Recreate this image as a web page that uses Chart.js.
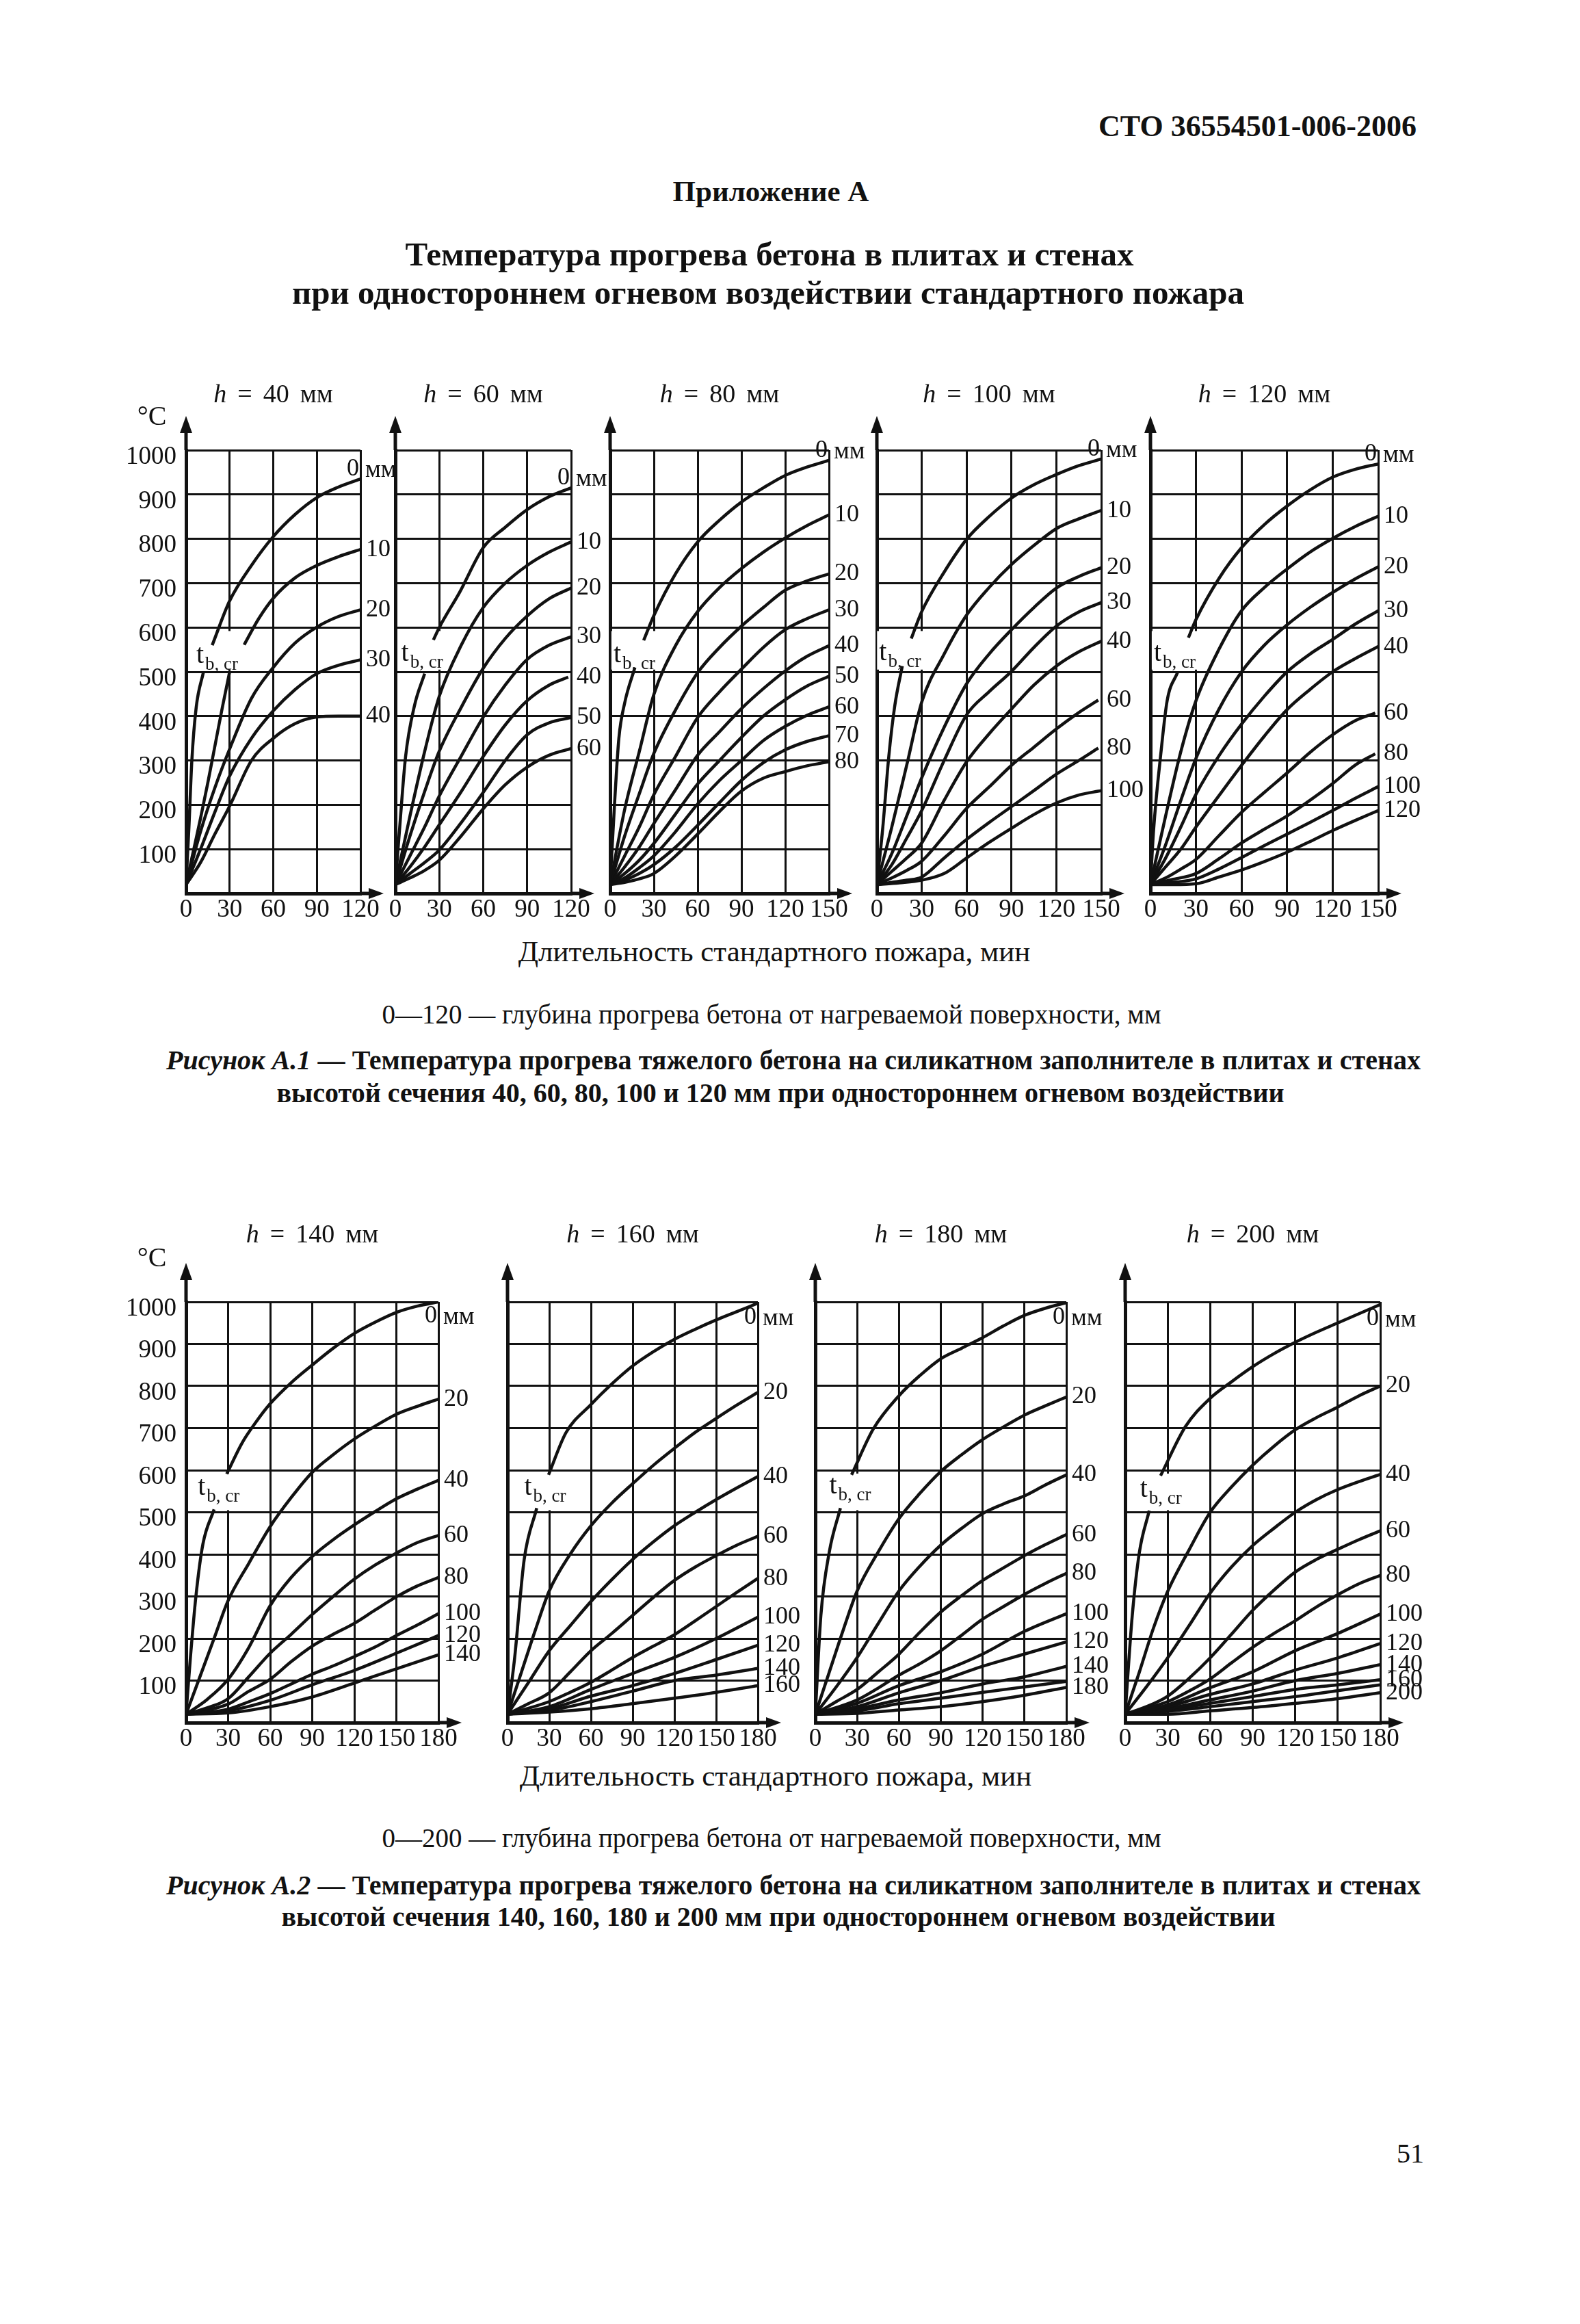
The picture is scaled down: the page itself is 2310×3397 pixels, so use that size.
<!DOCTYPE html>
<html>
<head>
<meta charset="utf-8">
<script src="https://cdn.jsdelivr.net/npm/chart.js@4.4.1/dist/chart.umd.min.js"></script>
<style>
  body { margin: 0; background: #fff; width: 2310px; height: 3397px; position: relative;
         font-family: 'Liberation Serif', 'Times New Roman', serif; color: #111; overflow: hidden; }
  .t { position: absolute; white-space: nowrap; transform: translate(-50%, -50%); line-height: 1; }
  .b { font-weight: bold; }
  .just { position: absolute; transform: translateY(-50%); text-align: justify; text-align-last: justify;
          line-height: 1; font-weight: bold; white-space: nowrap; }
  canvas { position: absolute; }
</style>
</head>
<body>

<div class="b" style="position:absolute; right:239px; top:163px; font-size:44px; line-height:1;">СТО 36554501-006-2006</div>
<div class="t b" style="left:1127px; top:279px; font-size:43px;">Приложение А</div>
<div class="t b" style="left:1125px; top:371px; font-size:49px;">Температура прогрева бетона в плитах и стенах</div>
<div class="t b" style="left:1123px; top:427px; font-size:49px;">при одностороннем огневом воздействии стандартного пожара</div>

<div class="t" style="left:1132px; top:1390px; font-size:43px;">Длительность стандартного пожара, мин</div>
<div class="t" style="left:1128px; top:1482px; font-size:39px;">0—120 — глубина прогрева бетона от нагреваемой поверхности, мм</div>
<div class="just" style="left:243px; width:1834px; top:1550px; font-size:40px;"><i>Рисунок А.1</i> — Температура прогрева тяжелого бетона на силикатном заполнителе в плитах и стенах</div>
<div class="t b" style="left:1141px; top:1598px; font-size:40px;">высотой сечения 40, 60, 80, 100 и 120 мм при одностороннем огневом воздействии</div>

<div class="t" style="left:1134px; top:2595px; font-size:43px;">Длительность стандартного пожара, мин</div>
<div class="t" style="left:1128px; top:2686px; font-size:39px;">0—200 — глубина прогрева бетона от нагреваемой поверхности, мм</div>
<div class="just" style="left:243px; width:1834px; top:2756px; font-size:40px;"><i>Рисунок А.2</i> — Температура прогрева тяжелого бетона на силикатном заполнителе в плитах и стенах</div>
<div class="t b" style="left:1138px; top:2802px; font-size:40px;">высотой сечения 140, 160, 180 и 200 мм при одностороннем огневом воздействии</div>

<div class="t" style="left:2062px; top:3148px; font-size:40px;">51</div>

<script>
// ---- data: [minutes, °C] points per depth; null temperature = break at the t_b,cr label ----

const depthsH40 = ['0', '10', '20', '30', '40'];
const curvesH40 = [
  [[0,20],[2,150],[4,300],[7,420],[12,500],[15,null],[18,560],[30,660],[45,740],[60,805],[75,855],[90,893],[105,917],[120,935]],
  [[0,20],[5,95],[10,170],[15,250],[20,335],[25,420],[30,500],[35,null],[40,561],[50,620],[60,666],[75,712],[90,740],[105,760],[120,776]],
  [[0,20],[10,140],[20,240],[30,326],[45,440],[60,510],[75,565],[90,601],[105,625],[120,640]],
  [[0,20],[10,100],[20,185],[30,265],[45,350],[60,412],[75,460],[90,496],[105,515],[120,527]],
  [[0,20],[10,70],[20,135],[30,197],[45,300],[60,350],[75,383],[90,398],[105,400],[120,400]]
];

const depthsH60 = ['0', '10', '20', '30', '40', '50', '60'];
const curvesH60 = [
  [[0,20],[3,150],[7,309],[13,423],[20,496],[23,null],[26,572],[30,600],[44,680],[60,780],[75,826],[90,866],[105,895],[120,915]],
  [[0,20],[10,175],[20,320],[30,445],[45,560],[60,645],[75,700],[90,740],[105,770],[120,793]],
  [[0,20],[10,130],[20,230],[30,321],[45,420],[60,508],[75,575],[90,626],[105,665],[120,689]],
  [[0,20],[10,85],[20,150],[30,220],[45,310],[60,398],[75,470],[90,528],[105,560],[120,579]],
  [[0,20],[10,60],[20,105],[30,155],[45,230],[60,309],[75,380],[90,435],[105,470],[118,488]],
  [[0,20],[10,45],[20,70],[30,98],[45,160],[60,228],[75,300],[90,358],[105,385],[120,397]],
  [[0,20],[10,35],[20,52],[30,75],[45,130],[60,191],[75,245],[90,285],[105,312],[120,327]]
];

const depthsH80 = ['0', '10', '20', '30', '40', '50', '60', '70', '80'];
const curvesH80 = [
  [[0,20],[3,200],[6,350],[10,430],[17,510],[20,null],[23,571],[30,627],[45,722],[60,793],[75,842],[90,883],[105,915],[120,943],[135,962],[150,977]],
  [[0,20],[10,190],[20,320],[30,449],[45,560],[60,636],[75,690],[90,733],[105,770],[120,802],[135,830],[150,854]],
  [[0,20],[10,130],[20,225],[30,316],[45,415],[60,498],[75,555],[90,603],[105,645],[120,684],[135,705],[150,721]],
  [[0,20],[10,85],[20,150],[30,223],[45,310],[60,397],[75,455],[90,506],[105,555],[120,595],[135,620],[150,640]],
  [[0,20],[10,60],[20,105],[30,158],[45,235],[60,312],[75,365],[90,417],[105,462],[120,502],[135,535],[150,559]],
  [[0,20],[10,45],[20,75],[30,113],[45,180],[60,247],[75,300],[90,352],[105,400],[120,437],[135,468],[150,490]],
  [[0,20],[10,35],[20,58],[30,85],[45,140],[60,202],[75,255],[90,300],[105,345],[120,377],[135,402],[150,421]],
  [[0,20],[10,30],[20,45],[30,65],[45,105],[60,154],[75,205],[90,255],[105,295],[120,324],[135,343],[150,356]],
  [[0,20],[10,25],[20,33],[30,45],[45,85],[60,134],[75,185],[90,231],[105,260],[120,275],[135,288],[150,297]]
];

const depthsH100 = ['0', '10', '20', '30', '40', '60', '80', '100'];
const curvesH100 = [
  [[0,20],[4,150],[8,310],[12,424],[17,513],[20,null],[23,575],[30,636],[45,725],[60,799],[75,850],[90,892],[105,922],[120,945],[135,965],[150,980]],
  [[0,20],[10,150],[20,290],[30,432],[45,540],[60,628],[75,690],[90,742],[105,785],[120,823],[135,845],[150,864]],
  [[0,20],[10,90],[20,175],[30,261],[45,375],[60,473],[75,540],[90,595],[105,645],[120,689],[135,715],[150,735]],
  [[0,20],[10,65],[20,125],[30,187],[45,300],[60,403],[75,455],[90,501],[105,555],[120,603],[135,635],[150,656]],
  [[0,20],[10,50],[20,80],[30,114],[45,210],[60,297],[75,360],[90,416],[105,470],[120,513],[135,545],[150,569]],
  [[0,20],[10,35],[20,52],[30,73],[45,130],[60,192],[75,240],[90,289],[105,330],[120,371],[135,408],[148,436]],
  [[0,20],[10,25],[20,30],[30,37],[45,80],[60,122],[75,160],[90,196],[105,232],[120,269],[135,300],[148,328]],
  [[0,20],[15,24],[30,30],[45,45],[60,80],[75,115],[90,147],[105,178],[120,204],[135,222],[150,232]]
];

const depthsH120 = ['0', '10', '20', '30', '40', '60', '80', '100', '120'];
const curvesH120 = [
  [[0,20],[2,140],[7,321],[11,435],[18,500],[21,null],[25,577],[30,618],[45,710],[60,780],[75,832],[90,874],[105,910],[120,939],[135,957],[150,969]],
  [[0,20],[10,175],[20,320],[30,435],[45,550],[60,638],[75,690],[90,732],[105,770],[120,801],[135,828],[150,851]],
  [[0,20],[10,110],[20,210],[30,305],[45,415],[60,500],[75,560],[90,606],[105,645],[120,679],[135,710],[150,737]],
  [[0,20],[10,80],[20,150],[30,224],[45,310],[60,382],[75,445],[90,500],[105,540],[120,573],[135,608],[150,638]],
  [[0,20],[10,60],[20,100],[30,150],[45,220],[60,289],[75,355],[90,415],[105,460],[120,500],[135,530],[150,557]],
  [[0,20],[10,35],[20,55],[30,77],[45,130],[60,183],[75,228],[90,272],[105,318],[120,358],[135,390],[148,407]],
  [[0,20],[15,32],[30,45],[45,78],[60,114],[75,145],[90,175],[105,210],[120,248],[135,290],[148,315]],
  [[0,20],[15,25],[30,33],[45,55],[60,81],[75,108],[90,134],[105,160],[120,187],[135,215],[150,241]],
  [[0,20],[15,20],[30,22],[45,37],[60,53],[75,72],[90,93],[105,117],[120,142],[135,165],[150,187]]
];

const depthsH140 = ['0', '20', '40', '60', '80', '100', '120', '140'];
const curvesH140 = [
  [[0,20],[3,150],[7,299],[12,424],[20,507],[25,null],[29,591],[40,665],[50,715],[60,758],[75,808],[90,850],[105,890],[120,925],[135,952],[150,975],[165,990],[180,1000]],
  [[0,20],[10,110],[20,200],[30,290],[45,380],[60,466],[75,535],[90,595],[105,637],[120,674],[135,705],[150,733],[165,752],[180,769]],
  [[0,20],[15,55],[30,103],[45,180],[60,278],[75,345],[90,395],[105,435],[120,470],[135,502],[150,532],[165,555],[180,576]],
  [[0,20],[15,35],[30,57],[45,110],[60,165],[75,210],[90,257],[105,300],[120,341],[135,375],[150,403],[165,428],[180,445]],
  [[0,20],[30,44],[45,75],[60,103],[75,145],[90,182],[105,210],[120,236],[135,268],[150,299],[165,325],[180,345]],
  [[0,20],[30,32],[45,50],[60,69],[75,92],[90,115],[105,135],[120,157],[135,180],[150,207],[165,232],[180,259]],
  [[0,20],[30,28],[60,53],[90,90],[120,124],[150,165],[180,207]],
  [[0,20],[30,23],[60,38],[90,61],[120,94],[150,128],[180,161]]
];

const depthsH160 = ['0', '20', '40', '60', '80', '100', '120', '140', '160'];
const curvesH160 = [
  [[0,20],[5,150],[12,388],[21,510],[25,null],[29.5,589],[42,689],[60,756],[75,805],[90,848],[105,882],[120,911],[135,935],[150,957],[165,977],[180,997]],
  [[0,20],[10,120],[20,220],[30,313],[45,400],[60,468],[75,522],[90,568],[105,612],[120,652],[135,690],[150,723],[165,755],[180,785]],
  [[0,20],[15,95],[30,171],[45,230],[60,288],[75,340],[90,388],[105,430],[120,468],[135,500],[150,530],[165,558],[180,585]],
  [[0,20],[15,45],[30,71],[45,120],[60,171],[75,212],[90,255],[105,298],[120,338],[135,370],[150,397],[165,422],[180,443]],
  [[0,20],[30,50],[45,72],[60,96],[75,125],[90,155],[105,182],[120,209],[135,242],[150,276],[165,310],[180,343]],
  [[0,20],[30,38],[60,79],[90,117],[120,155],[150,200],[180,251]],
  [[0,20],[30,33],[60,63],[90,88],[120,117],[150,150],[180,184]],
  [[0,20],[30,29],[60,50],[90,75],[120,100],[150,113],[180,129]],
  [[0,20],[30,25],[60,33],[90,45],[120,58],[150,72],[180,88]]
];

const depthsH180 = ['0', '20', '40', '60', '80', '100', '120', '140', '', '180'];
const curvesH180 = [
  [[0,20],[4,255],[10,405],[18,510],[22,null],[26,589],[41.6,698],[60,777],[75,825],[90,865],[105,890],[120,915],[135,943],[150,968],[165,985],[180,998]],
  [[0,20],[10,120],[20,220],[30,313],[45,405],[60,485],[75,545],[90,597],[105,637],[120,673],[135,703],[150,731],[165,753],[180,774]],
  [[0,20],[15,85],[30,155],[45,235],[60,313],[75,372],[90,422],[105,462],[120,497],[135,520],[150,539],[165,565],[180,589]],
  [[0,20],[15,50],[30,79],[45,120],[60,163],[75,215],[90,263],[105,302],[120,338],[135,368],[150,397],[165,423],[180,447]],
  [[0,20],[30,54],[45,82],[60,113],[75,140],[90,171],[105,208],[120,246],[135,276],[150,305],[165,331],[180,355]],
  [[0,20],[30,46],[60,88],[90,121],[120,163],[150,217],[180,259]],
  [[0,20],[30,38],[60,71],[90,100],[120,134],[150,163],[180,192]],
  [[0,20],[30,33],[60,54],[90,71],[120,92],[150,109],[180,134]],
  [[0,20],[30,28],[60,45],[90,58],[120,72],[150,85],[180,98]],
  [[0,20],[30,22],[60,30],[90,38],[120,50],[150,65],[180,84]]
];

const depthsH200 = ['0', '20', '40', '60', '80', '100', '120', '140', '160', '', '200'];
const curvesH200 = [
  [[0,20],[5,254],[10,404],[17,504],[21,null],[25,587],[42.6,704],[60,771],[75,810],[90,846],[105,877],[120,904],[135,928],[150,950],[165,972],[180,994]],
  [[0,20],[10,120],[20,225],[30,312],[45,410],[60,500],[75,560],[90,612],[105,657],[120,696],[135,725],[150,750],[165,777],[180,800]],
  [[0,20],[15,85],[30,154],[45,230],[60,308],[75,370],[90,421],[105,462],[120,500],[135,530],[150,554],[165,573],[180,590]],
  [[0,20],[15,38],[30,63],[45,105],[60,154],[75,210],[90,267],[105,315],[120,358],[135,388],[150,412],[165,435],[180,456]],
  [[0,20],[30,50],[45,75],[60,104],[75,142],[90,179],[105,212],[120,242],[135,275],[150,304],[165,330],[180,350]],
  [[0,20],[30,42],[60,83],[90,121],[120,171],[150,212],[180,258]],
  [[0,20],[30,38],[60,67],[90,92],[120,125],[150,154],[180,188]],
  [[0,20],[30,33],[60,54],[90,75],[120,100],[150,117],[180,138]],
  [[0,20],[30,30],[60,46],[90,62],[120,79],[150,90],[180,102]],
  [[0,20],[30,27],[60,38],[90,50],[120,62],[150,76],[180,90]],
  [[0,20],[30,20],[60,28],[90,36],[120,46],[150,57],[180,71]]
];

// where the "t b,cr" note sits, in chart units [min, °C]
const tbcrAnchors = {40: [7, 520], 60: [4, 524], 80: [2.3, 522], 100: [1.5, 527], 120: [2.2, 524],
                     140: [8.4, 541], 160: [12, 541], 180: [10, 545], 200: [10.5, 537]};

const timeStep = 30;
const tempStep = 100;
const tempMax = 1000;

// ---- drawing ----
const INK = '#111';
const SERIF = "'Liberation Serif', 'Times New Roman', serif";
const PAD_L = 120, PAD_R = 110, PAD_T = 130, PAD_B = 70;

const rowTop = {top: 658, bottom: 1306, titleGap: 80, arrowUp: 50, unitUp: 48, zeroShift: 22};
const rowBottom = {top: 1903, bottom: 2518, titleGap: 97, arrowUp: 57, unitUp: 63, zeroShift: -34};

function plot(h, left, right, row, tMax, curves, depths, withUnit) {
  const cv = document.createElement('canvas');
  const w = right - left + PAD_L + PAD_R, hh = row.bottom - row.top + PAD_T + PAD_B;
  cv.width = w; cv.height = hh;
  cv.style.left = (left - PAD_L) + 'px';
  cv.style.top = (row.top - PAD_T) + 'px';
  cv.style.width = w + 'px'; cv.style.height = hh + 'px';
  document.body.appendChild(cv);

  const tb = tbcrAnchors[h];

  const deco = {
    id: 'deco',
    beforeDatasetsDraw(chart) {
      const {ctx, scales: {x, y}} = chart;
      const lx = x.getPixelForValue(tb[0]), ly = y.getPixelForValue(tb[1]);
      ctx.save();
      // the grid is broken where the note sits
      ctx.fillStyle = '#fff';
      const yTop = y.getPixelForValue(592), yBot = y.getPixelForValue(505);
      ctx.fillRect(lx - 3, yTop, 84, yBot - yTop);
      ctx.fillStyle = INK;
      ctx.textBaseline = 'alphabetic';
      ctx.textAlign = 'left';
      ctx.font = '40px ' + SERIF;
      ctx.fillText('t', lx, ly);
      const tw = ctx.measureText('t').width;
      ctx.font = '27px ' + SERIF;
      ctx.fillText('b, cr', lx + tw + 2, ly + 10);
      ctx.restore();
    },
    afterDatasetsDraw(chart) {
      const {ctx, chartArea: a, scales: {y}} = chart;
      ctx.save();
      ctx.fillStyle = INK;
      ctx.textBaseline = 'middle';
      ctx.font = '36px ' + SERIF;
      chart.data.datasets.forEach((ds, i) => {
        const name = depths[i];
        if (!name) return;
        const last = ds.data[ds.data.length - 1];
        if (i === 0) {
          const py = y.getPixelForValue(last.y + row.zeroShift);
          ctx.textAlign = 'right';
          ctx.fillText(name, a.right - 2, py);
          ctx.textAlign = 'left';
          ctx.fillText('мм', a.right + 7, py + 2);
        } else {
          ctx.textAlign = 'left';
          ctx.fillText(name, a.right + 8, y.getPixelForValue(last.y));
        }
      });
      ctx.restore();
    },
    afterDraw(chart) {
      const {ctx, chartArea: a} = chart;
      ctx.save();
      ctx.strokeStyle = INK; ctx.fillStyle = INK; ctx.lineWidth = 5;
      // y arrow
      const tipY = a.top - row.arrowUp;
      ctx.beginPath(); ctx.moveTo(a.left, a.top); ctx.lineTo(a.left, tipY + 12); ctx.stroke();
      ctx.beginPath(); ctx.moveTo(a.left, tipY); ctx.lineTo(a.left - 9, tipY + 25); ctx.lineTo(a.left + 9, tipY + 25); ctx.closePath(); ctx.fill();
      // x arrow
      const tipX = a.right + 34;
      ctx.beginPath(); ctx.moveTo(a.right, a.bottom); ctx.lineTo(tipX - 12, a.bottom); ctx.stroke();
      ctx.beginPath(); ctx.moveTo(tipX, a.bottom); ctx.lineTo(tipX - 22, a.bottom - 8); ctx.lineTo(tipX - 22, a.bottom + 8); ctx.closePath(); ctx.fill();

      // title  h = N мм
      ctx.textBaseline = 'middle';
      ctx.textAlign = 'left';
      const parts = [['h', 'italic 38px '], ['=', '38px '], [String(h), '38px '], ['мм', '38px ']];
      const gap = 16;
      let total = -gap;
      parts.forEach(p => { ctx.font = p[1] + SERIF; total += ctx.measureText(p[0]).width + gap; });
      let px = (a.left + a.right) / 2 - total / 2;
      const ty = a.top - row.titleGap;
      parts.forEach(p => { ctx.font = p[1] + SERIF; ctx.fillText(p[0], px, ty); px += ctx.measureText(p[0]).width + gap; });

      if (withUnit) {
        ctx.font = '40px ' + SERIF;
        ctx.textAlign = 'center';
        ctx.fillText('°C', a.left - 50, a.top - row.unitUp);
      }
      ctx.restore();
    }
  };

  new Chart(cv, {
    type: 'line',
    data: {
      datasets: curves.map(pts => ({
        data: pts.map(p => ({x: p[0], y: p[1]})),
        borderColor: INK,
        borderWidth: 4.5,
        pointRadius: 0,
        fill: false,
        spanGaps: false,
        cubicInterpolationMode: 'monotone'
      }))
    },
    options: {
      responsive: false,
      devicePixelRatio: 1,
      animation: false,
      events: [],
      layout: {padding: {top: PAD_T, right: PAD_R, left: 0, bottom: 0}},
      plugins: {legend: {display: false}, tooltip: {enabled: false}},
      scales: {
        x: {
          type: 'linear', min: 0, max: tMax,
          ticks: {stepSize: timeStep, autoSkip: false, maxRotation: 0, padding: 2,
                  color: INK, font: {family: SERIF, size: 37}},
          grid: {color: INK, lineWidth: 3, drawTicks: false},
          border: {color: INK, width: 5},
          afterFit: s => { s.height = PAD_B; }
        },
        y: {
          min: 0, max: tempMax,
          ticks: {stepSize: tempStep, display: withUnit, padding: 14, labelOffset: 10,
                  color: INK, font: {family: SERIF, size: 37},
                  callback: v => (v === 0 ? '' : v)},
          grid: {color: INK, lineWidth: 3, drawTicks: false},
          border: {color: INK, width: 5},
          afterFit: s => { s.width = PAD_L; }
        }
      }
    },
    plugins: [deco]
  });
}

plot(40, 272, 527, rowTop, 120, curvesH40, depthsH40, true);
plot(60, 578, 835, rowTop, 120, curvesH60, depthsH60, false);
plot(80, 892, 1212, rowTop, 150, curvesH80, depthsH80, false);
plot(100, 1282, 1610, rowTop, 150, curvesH100, depthsH100, false);
plot(120, 1682, 2015, rowTop, 150, curvesH120, depthsH120, false);

plot(140, 272, 641, rowBottom, 180, curvesH140, depthsH140, true);
plot(160, 742, 1108, rowBottom, 180, curvesH160, depthsH160, false);
plot(180, 1192, 1559, rowBottom, 180, curvesH180, depthsH180, false);
plot(200, 1645, 2018, rowBottom, 180, curvesH200, depthsH200, false);
</script>
</body>
</html>
